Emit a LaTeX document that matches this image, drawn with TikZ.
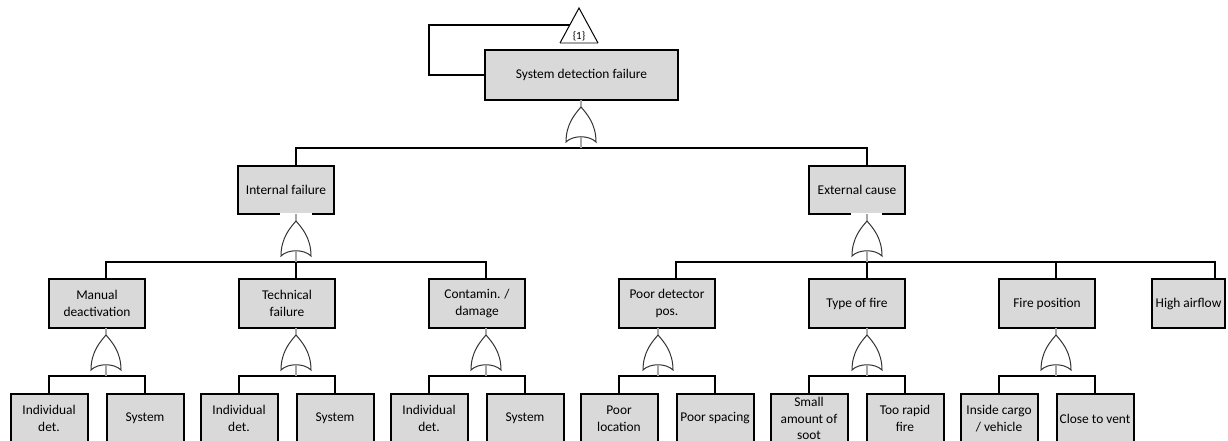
\documentclass[tikz,border=0pt]{standalone}
\usepackage{fontspec}
\setmainfont{Carlito}
\usepackage{tikz}
\usetikzlibrary{calc,positioning}
\newdimen\hdim
\newdimen\wdim
\newdimen\sdim
\hdim=49pt
\wdim=96pt
\sdim=77pt
\definecolor{boxgray}{HTML}{D9D9D9}
\definecolor{stemgray}{HTML}{A6A6A6}
\tikzstyle{event}=[
  draw=black,
  fill=boxgray,
  line width=2pt,
  inner sep=0pt,
  outer sep=0pt,
  minimum height=\hdim,
  minimum width=\wdim,
  rectangle,
  align=center,
  font={\fontsize{13.4}{16.8}\selectfont},
]
\tikzstyle{basic}=[
  event,
  minimum width=\sdim,
]
\tikzstyle{link}=[
  draw=black,
  line width=2pt,
]
\tikzstyle{gate}=[
  draw=black!80,
  line width=1pt,
  fill=white,
]
\tikzstyle{stem}=[
  draw=stemgray,
  line width=1.5pt,
]
\newcommand{\orgate}[2]{%
  \begin{scope}[shift={(#2)}]
    \coordinate (#1) at (0,0);
    \draw[gate] (0,0) .. controls (-6,7) and (-15,17) .. (-15,35)
      .. controls (-8,28) and (8,28) .. (15,35)
      .. controls (15,17) and (6,7) .. (0,0);
    \coordinate (#1 in) at (0,30);
  \end{scope}}
\tikzset{
  x=1pt,
  y=-1pt,
}

\begin{document}
\begin{tikzpicture}
  \useasboundingbox (0,0) rectangle (1228,441);
  \clip (0,0) rectangle (1228,441);
  \coordinate (L1) at (0,148);
  \coordinate (L2) at (0,262);
  \coordinate (L3) at (0,376);
  \coordinate (B) at (0,418.5);
  %% top event
  \node (top) [event, minimum width=193pt, minimum height=50pt] at (581.5,75) {System detection failure};
  \coordinate (tri) at (579,43);
  \draw[stem] ($(tri)+(-19,0)$) -- ($(tri)+(19,0)$);
  \draw[line width=1pt] ($(tri)+(-19,0)$) -- ($(tri)+(0,-35)$) -- ($(tri)+(19,0)$);
  \node (trilabel) [font={\fontsize{11}{12}\selectfont}, inner sep=0pt, above=1.5pt of tri] {\{1\}};
  \draw[line width=1.5pt] ($(tri)+(-9.2,-18)$) -| (429,75) -- (top.west);
  %% second level
  \node (manual) [event] at (97,303.5) {Manual\\deactivation};
  \node (techfail) [event, right=94pt of manual] {Technical\\failure};
  \node (contam) [event, right=94pt of techfail] {Contamin. /\\damage};
  \node (poordet) [event, right=94pt of contam] {Poor detector\\pos.};
  \node (firetype) [event, right=94pt of poordet] {Type of fire};
  \node (firepos) [event, right=94pt of firetype] {Fire position};
  \node (airflow) [event, minimum width=73pt, right=57pt of firepos] {High airflow};
  \node (intfail) [event, minimum height=48pt, above=65pt of techfail, xshift=-1pt] {Internal failure};
  \node (extcause) [event, minimum height=48pt, above=65pt of firetype] {External cause};
  %%
  \coordinate (manual up) at ($(manual.north)+(9,0)$);
  \coordinate (techfail up) at ($(techfail.north)+(9,0)$);
  \coordinate (contam up) at ($(contam.north)+(9,0)$);
  \coordinate (poordet up) at ($(poordet.north)+(9,0)$);
  \coordinate (firetype up) at ($(firetype.north)+(10,0)$);
  \coordinate (firepos up) at ($(firepos.north)+(9,0)$);
  \coordinate (airflow up) at ($(airflow.north)+(26.5,0)$);
  %% basic events
  \node (ind1) [basic] at (manual.west |- B) {Individual\\det.};
  \node (sys1) [basic] at (manual.east |- B) {System};
  \node (ind2) [basic] at (techfail.west |- B) {Individual\\det.};
  \node (sys2) [basic] at (techfail.east |- B) {System};
  \node (ind3) [basic] at (contam.west |- B) {Individual\\det.};
  \node (sys3) [basic] at (contam.east |- B) {System};
  \node (poorloc) [basic] at (poordet.west |- B) {Poor\\location};
  \node (poorspc) [basic] at (poordet.east |- B) {Poor spacing};
  \node (soot) [basic] at (firetype.west |- B) {Small\\amount of\\soot};
  \node (rapid) [basic] at (firetype.east |- B) {Too rapid\\fire};
  \node (cargo) [basic] at (firepos.west |- B) {Inside cargo\\/ vehicle};
  \node (vent) [basic] at (firepos.east |- B) {Close to vent};
  %% connectors
  \draw[link] (techfail up |- intfail.north) -- (techfail up |- L1)
    -- (firetype up |- L1) -- (firetype up |- extcause.north);
  \draw[link] (manual up) -- (manual up |- L2) -- (contam up |- L2) -- (contam up);
  \draw[link] (techfail up) -- (techfail up |- L2);
  \draw[link] (poordet up) -- (poordet up |- L2) -- (airflow up |- L2) -- (airflow up);
  \draw[link] (firetype up) -- (firetype up |- L2);
  \draw[link] (firepos up) -- (firepos up |- L2);
  \draw[link] (ind1.north) -- (ind1.north |- L3) -- (sys1.north |- L3) -- (sys1.north);
  \draw[link] (ind2.north) -- (ind2.north |- L3) -- (sys2.north |- L3) -- (sys2.north);
  \draw[link] (ind3.north) -- (ind3.north |- L3) -- (sys3.north |- L3) -- (sys3.north);
  \draw[link] (poorloc.north) -- (poorloc.north |- L3) -- (poorspc.north |- L3) -- (poorspc.north);
  \draw[link] (soot.north) -- (soot.north |- L3) -- (rapid.north |- L3) -- (rapid.north);
  \draw[link] (cargo.north) -- (cargo.north |- L3) -- (vent.north |- L3) -- (vent.north);
  %% gates
  \fill[white] ($(intfail.south)+(-6,-1.2)$) rectangle ($(intfail.south)+(26,1.2)$);
  \fill[white] ($(extcause.south)+(-6,-1.2)$) rectangle ($(extcause.south)+(25,1.2)$);
  \draw[stem] (581,100) -- (581,107);
  \orgate{topgate}{581,107}
  \draw[stem] (topgate in) -- (topgate in |- L1);
  \draw[stem] (techfail up |- intfail.south) -- ++(0,7);
  \orgate{intgate}{$(techfail up |- intfail.south)+(0,7)$}
  \draw[stem] (intgate in) -- (intgate in |- L2);
  \draw[stem] (firetype up |- extcause.south) -- ++(0,7);
  \orgate{extgate}{$(firetype up |- extcause.south)+(0,7)$}
  \draw[stem] (extgate in) -- (extgate in |- L2);
  \draw[stem] (manual up |- manual.south) -- ++(0,7);
  \orgate{manualgate}{$(manual up |- manual.south)+(0,7)$}
  \draw[stem] (manualgate in) -- (manualgate in |- L3);
  \draw[stem] (techfail up |- techfail.south) -- ++(0,7);
  \orgate{techgate}{$(techfail up |- techfail.south)+(0,7)$}
  \draw[stem] (techgate in) -- (techgate in |- L3);
  \draw[stem] (contam up |- contam.south) -- ++(0,7);
  \orgate{contamgate}{$(contam up |- contam.south)+(0,7)$}
  \draw[stem] (contamgate in) -- (contamgate in |- L3);
  \draw[stem] ($(poordet.south)+(-9,0)$) -- ++(0,7);
  \orgate{poordetgate}{$(poordet.south)+(-9,7)$}
  \draw[stem] (poordetgate in) -- (poordetgate in |- L3);
  \draw[stem] (firetype up |- firetype.south) -- ++(0,7);
  \orgate{firetypegate}{$(firetype up |- firetype.south)+(0,7)$}
  \draw[stem] (firetypegate in) -- (firetypegate in |- L3);
  \draw[stem] (firepos up |- firepos.south) -- ++(0,7);
  \orgate{fireposgate}{$(firepos up |- firepos.south)+(0,7)$}
  \draw[stem] (fireposgate in) -- (fireposgate in |- L3);
\end{tikzpicture}
\end{document}
